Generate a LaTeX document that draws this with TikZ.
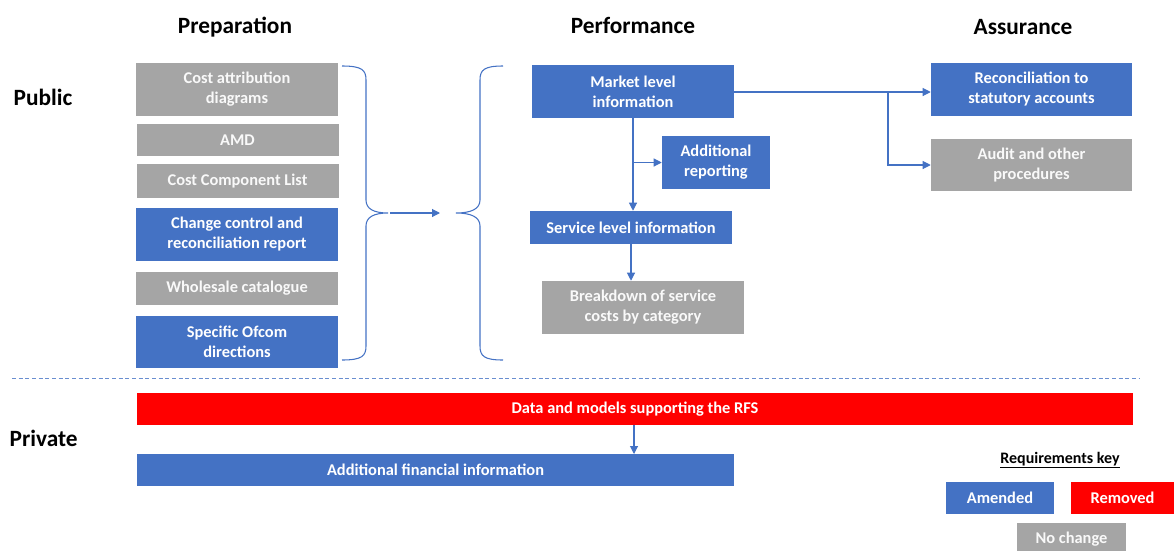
\documentclass[tikz,border=0pt]{standalone}
\usepackage{fontspec}
\setmainfont{Carlito}
\usetikzlibrary{arrows.meta,positioning}
\definecolor{amendblue}{RGB}{68,114,196}
\definecolor{nochgray}{RGB}{165,165,165}
\definecolor{removedred}{RGB}{255,0,0}
\definecolor{linkblue}{RGB}{68,114,196}

\tikzset{
  reqbox/.style={draw=none, text=white, font=\bfseries\fontsize{12.3}{15}\selectfont,
    align=center, inner sep=2pt, minimum width=151.5pt},
  amendbox/.style={reqbox, fill=amendblue},
  grbox/.style={reqbox, fill=nochgray, text=white!95!gray},
  redbox/.style={reqbox, fill=removedred},
  heading/.style={font=\bfseries\fontsize{17.5}{20}\selectfont},
  link/.style={linkblue, line width=0.8pt, ->},
  bracefig/.style={linkblue, line width=0.8pt}
}

\begin{document}
\begin{tikzpicture}[x=0.75pt, y=-0.75pt, >={Triangle[length=6pt,width=6pt]}]

  \useasboundingbox (0,0) rectangle (1174,550);

  % --- Column headings ---
  \node[heading] (hprep) at (235,27) {Preparation};
  \node[heading] (hperf) at (633,25) {Performance};
  \node[heading] (hassu) at (1023,27) {Assurance};
  \node[heading, anchor=west] (hpub) at (9,97) {Public};
  \node[heading, anchor=west] (hpriv) at (5,438) {Private};

  % --- Preparation ---
  \node[grbox, minimum height=39.75pt] (costattr) at (237,89.5) {Cost attribution\\diagrams};
  \node[grbox, minimum height=24pt] (amd) at (237.5,140) {AMD};
  \node[grbox, minimum height=25.5pt] (ccl) at (237.5,181) {Cost Component List};
  \node[amendbox, minimum height=39.75pt] (change) at (237,234.5) {Change control and\\reconciliation report};
  \node[grbox, minimum height=24.75pt] (wholesale) at (237,288.5) {Wholesale catalogue};
  \node[amendbox, minimum height=39pt] (ofcom) at (237,342) {Specific Ofcom\\directions};

  % --- Braces ---
  \draw[bracefig] (342,66) .. controls (362,66) and (366,70) .. (366,80)
    -- (366,200) .. controls (366,209) and (374,213) .. (388,213)
    .. controls (374,213) and (366,217) .. (366,226)
    -- (366,346) .. controls (366,356) and (362,360) .. (342,360);
  \draw[bracefig] (503,66) .. controls (484,66) and (480,70) .. (480,80)
    -- (480,200) .. controls (480,209) and (471,213) .. (456,213)
    .. controls (471,213) and (480,217) .. (480,226)
    -- (480,346) .. controls (480,356) and (484,360) .. (503,360);
  \coordinate (lbtip) at (390,213);
  \coordinate (rbtip) at (440,213);
  \draw[link] (lbtip) -- (rbtip);

  % --- Performance ---
  \node[amendbox, minimum height=39.75pt] (market) at (633,91.5) {Market level\\information};
  \node[amendbox, minimum width=81pt, minimum height=39.75pt] (addrep) at (716,162.5) {Additional\\reporting};
  \node[amendbox, minimum height=24.75pt] (service) at (631,227.5) {Service level information};
  \node[grbox, minimum height=39.75pt] (breakdown) at (643,307.5) {Breakdown of service\\costs by category};

  \draw[link] (market.south) -- (market.south |- service.north);
  \draw[link] (market.south |- addrep.west) -- (addrep.west);
  \draw[link] (service.south) -- (service.south |- breakdown.north);

  % --- Assurance ---
  \node[amendbox, minimum width=150.75pt, minimum height=39.75pt] (recon) at (1031.5,89.5) {Reconciliation to\\statutory accounts};
  \node[grbox, minimum width=150.75pt, minimum height=39pt] (audit) at (1031.5,165) {Audit and other\\procedures};

  \coordinate (split) at (888,92);
  \draw[link] (market.east |- split) -- (split -| recon.west);
  \draw[link] (split) |- (audit.west);

  % --- Public / private divider ---
  \draw[linkblue!80, line width=0.6pt, densely dashed] (12,378) -- (1140,378);

  % --- Private ---
  \node[redbox, minimum width=747pt, minimum height=24pt] (rfs) at (635,409) {Data and models supporting the RFS};
  \node[amendbox, minimum width=447.75pt, minimum height=24pt] (addfin) at (435.5,470) {Additional financial information};
  \draw[link] (rfs.south -| 634,0) -- (634,454);

  % --- Requirements key ---
  \node[font=\bfseries\fontsize{12}{14}\selectfont] (keytitle) at (1060,460) {\underline{Requirements key}};
  \node[amendbox, minimum width=81pt, minimum height=24pt] (kamend) at (1000,498) {Amended};
  \node[redbox, minimum width=77.25pt, minimum height=24pt] (kremove) at (1122.5,498) {Removed};
  \node[grbox, minimum width=81.75pt, minimum height=24pt] (knochange) at (1071.5,539) {No change};

\end{tikzpicture}
\end{document}
